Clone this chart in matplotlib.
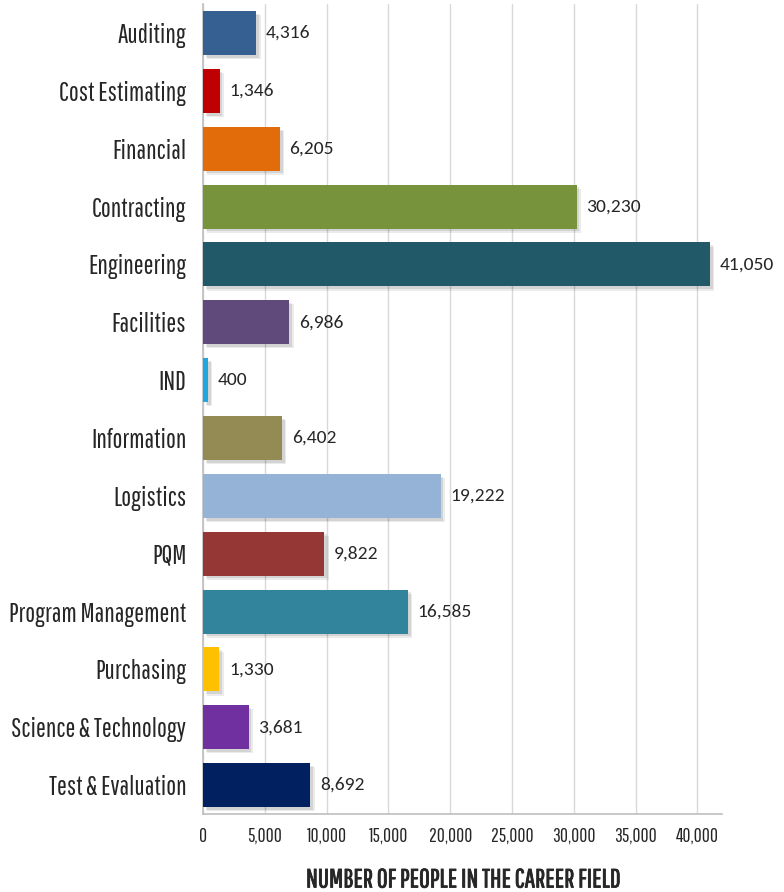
import matplotlib
matplotlib.use("Agg")
import matplotlib.pyplot as plt
import matplotlib.patheffects as pe
from matplotlib.ticker import FuncFormatter

# career fields, top to bottom
fields = ['Auditing', 'Cost Estimating', 'Financial', 'Contracting', 'Engineering',
          'Facilities', 'IND', 'Information', 'Logistics', 'PQM',
          'Program Management', 'Purchasing', 'Science & Technology', 'Test & Evaluation']
people = [4316, 1346, 6205, 30230, 41050, 6986, 400, 6402, 19222, 9822,
          16585, 1330, 3681, 8692]
colors = ['#376092', '#C00000', '#E36C0A', '#77933C', '#215968', '#604A7B', '#1FA8E0',
          '#948A54', '#95B3D7', '#953735', '#31849B', '#FFC000', '#7030A0', '#002060']

cond = ['Pathway Gothic One', 'DejaVu Sans']
num_font = ['Carlito', 'Lato', 'DejaVu Sans']

fig = plt.figure(figsize=(7.84, 8.92), dpi=100)
ax = fig.add_axes([0.259, 0.0874, 0.662, 0.908])

ypos = list(range(len(fields)))
shadow = [pe.SimplePatchShadow(offset=(3, -3), shadow_rgbFace='black', alpha=0.08),
          pe.SimplePatchShadow(offset=(2, -2), shadow_rgbFace='black', alpha=0.10),
          pe.Normal()]
bars = ax.barh(ypos, people, height=0.76, color=colors, zorder=3)
for b in bars:
    b.set_path_effects(shadow)

for y, v in zip(ypos, people):
    ax.annotate(f'{v:,}', xy=(v, y), xytext=(7, 0), textcoords='offset points',
                va='center', ha='left', fontsize=14, color='#262626',
                family=num_font)

ax.set_xlim(0, 42000)
ax.set_ylim(len(fields) - 0.5, -0.5)
ax.set_xticks(range(0, 40001, 5000))
ax.xaxis.set_major_formatter(FuncFormatter(lambda x, p: f'{int(x):,}'))
ax.set_yticks(ypos)
ax.set_yticklabels(fields, family=cond, fontsize=19, color='#262626')
for lab in ax.get_xticklabels():
    lab.set_family(cond)
    lab.set_fontsize(14)
    lab.set_color('#262626')

ax.grid(axis='x', color='#D9D9D9', linewidth=1, zorder=0)
ax.tick_params(axis='both', length=0)
ax.tick_params(axis='y', pad=12)
ax.tick_params(axis='x', pad=9)
for s in ['top', 'right']:
    ax.spines[s].set_visible(False)
for s in ['left', 'bottom']:
    ax.spines[s].set_color('#BFBFBF')
    ax.spines[s].set_linewidth(1.2)

fig.text(0.5896, 0.0135, 'NUMBER OF PEOPLE IN THE CAREER FIELD', family=cond, fontsize=19,
         color='#262626', ha='center', va='center',
         path_effects=[pe.withStroke(linewidth=0.6, foreground='#262626')])

fig.savefig('out.png', dpi=100)
